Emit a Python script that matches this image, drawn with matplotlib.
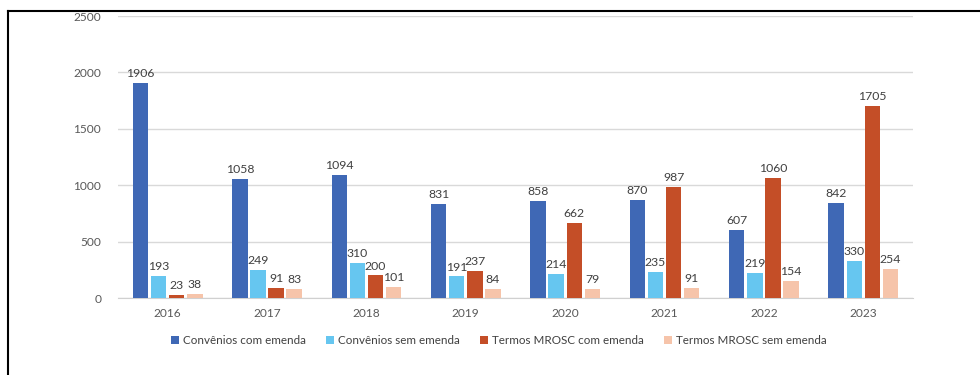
import numpy as np
import matplotlib.pyplot as plt
from matplotlib.lines import Line2D

plt.rcParams['font.family'] = ['Lato', 'DejaVu Sans']

years = ["2016", "2017", "2018", "2019", "2020", "2021", "2022", "2023"]
series_names = ["Convênios com emenda", "Convênios sem emenda",
                "Termos MROSC com emenda", "Termos MROSC sem emenda"]
conv_com = [1906, 1058, 1094, 831, 858, 870, 607, 842]
conv_sem = [193, 249, 310, 191, 214, 235, 219, 330]
mrosc_com = [23, 91, 200, 237, 662, 987, 1060, 1705]
mrosc_sem = [38, 83, 101, 84, 79, 91, 154, 254]
colors = ["#3F68B5", "#66C6F0", "#C44E27", "#F6C4AA"]

fig = plt.figure(figsize=(9.8, 3.75), dpi=100)
ax = fig.add_axes([0.1204, 0.2053, 0.8112, 0.752])

x = np.arange(len(years))
w = 0.155
step = 0.182
for i, (vals, name) in enumerate(zip([conv_com, conv_sem, mrosc_com, mrosc_sem], series_names)):
    pos = x + (i - 1.5) * step
    ax.bar(pos, vals, width=w, color=colors[i], label=name, zorder=3)
    for p, v in zip(pos, vals):
        ax.text(p, v + 35, str(v), ha="center", va="bottom", fontsize=8.8, color="#404040")

ax.set_xlim(-0.5, len(years) - 0.5)
ax.set_ylim(0, 2500)
ax.set_yticks(range(0, 2501, 500))
ax.set_xticks(x)
ax.set_xticklabels(years)
ax.tick_params(length=0, labelsize=8.6, colors="#595959")
ax.tick_params(axis="y", pad=12)
ax.tick_params(axis="x", pad=7)
ax.grid(axis="y", color="#d9d9d9", linewidth=1, zorder=0)
for s in ["top", "right", "left"]:
    ax.spines[s].set_visible(False)
ax.spines["bottom"].set_color("#d0d0d0")

ax.legend(loc="upper center", bbox_to_anchor=(0.479, -0.095), ncol=4, frameon=False,
          fontsize=8.4, handlelength=0.7, handleheight=0.7, handletextpad=0.3,
          columnspacing=1.75, labelcolor="#404040")

# outer frame lines (top and left)
fig.add_artist(Line2D([8 / 980, 1.0], [1 - 11 / 375, 1 - 11 / 375], color="black", linewidth=1.5))
fig.add_artist(Line2D([8 / 980, 8 / 980], [0, 1 - 11 / 375], color="black", linewidth=1.5))

fig.savefig("out.png", dpi=100)
